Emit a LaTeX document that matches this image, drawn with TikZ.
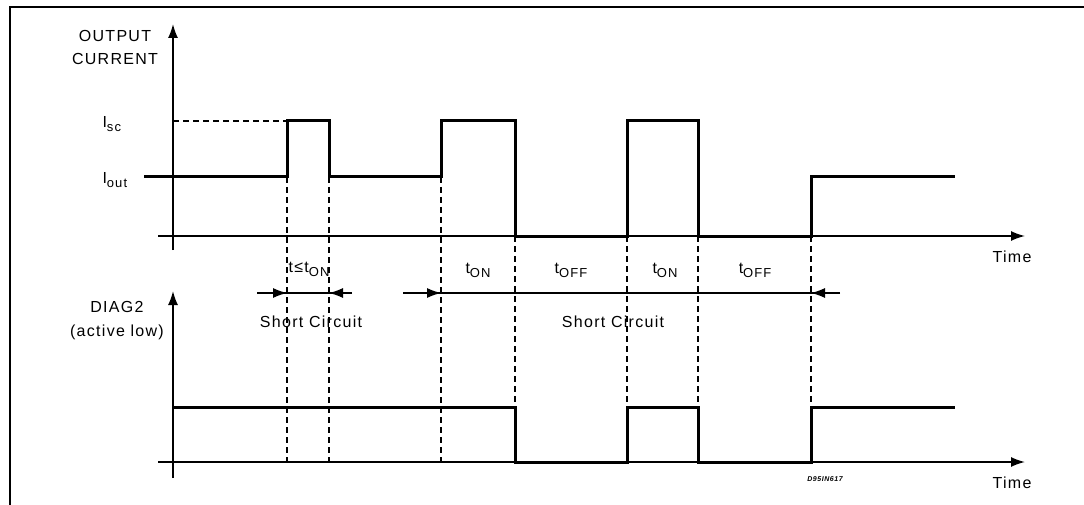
\documentclass[tikz,border=0pt]{standalone}
\usepackage{fontspec}
\newfontfamily\lblfont{Liberation Sans}[LetterSpace=8]
\usetikzlibrary{arrows.meta}
\newcommand\lowsub[1]{\raisebox{-0.45ex}{\fontsize{13}{13}\selectfont #1}}
\begin{document}
\begin{tikzpicture}[x=1pt, y=-1pt, font=\lblfont\fontsize{16}{18}\selectfont, line join=miter, >={Latex[length=14pt,width=10pt]},
	axis/.style={line width=1.6pt},
	sig/.style={line width=3pt},
	dashline/.style={line width=1.2pt, dash pattern=on 6pt off 4pt}]
	\useasboundingbox (0,0) rectangle (1084,505);
	\def \ya{236} %upper time axis
	\def \yout{177} %I_out
	\def \ysc{121} %I_sc
	\def \yb{462} %lower time axis
	\def \yhi{407} %DIAG2 high
	\def \ydim{293} %short circuit arrows
	%frame
	\draw[line width=2.5pt] (10,505)--(10,7)--(1084,7);
	%axes
	\draw[axis,->] (158,\ya)--(1025,\ya);
	\draw[axis,->] (173,250)--(173,24);
	\draw[axis,->] (158,\yb)--(1025,\yb);
	\draw[axis,->] (173,478)--(173,291);
	%dashed guides
	\draw[dashline] (173,\ysc)--(287,\ysc);
	\foreach \t in {287,329,441}
	\draw[dashline] (\t,\yout)--(\t,\yb);
	\foreach \t in {515,627,698,811}
	\draw[dashline] (\t,\ya)--(\t,\yhi);
	%output current
	\draw[sig] (144,\yout)--(287,\yout)--(287,\ysc)--(329,\ysc)--(329,\yout)--(441,\yout)--(441,\ysc)--(515,\ysc)--(515,\ya)
	--(627,\ya)--(627,\ysc)--(698,\ysc)--(698,\ya)--(811,\ya)--(811,\yout)--(955,\yout);
	%DIAG2
	\draw[sig] (173,\yhi)--(515,\yhi)--(515,\yb)--(627,\yb)--(627,\yhi)--(698,\yhi)--(698,\yb)--(811,\yb)--(811,\yhi)--(955,\yhi);
	%short circuit intervals
	\draw[line width=1.2pt] (257,\ydim)--(352,\ydim);
	\draw[line width=1.2pt,->] (257,\ydim)--(287,\ydim);
	\draw[line width=1.2pt,->] (352,\ydim)--(329,\ydim);
	\draw[line width=1.2pt] (403,\ydim)--(840,\ydim);
	\draw[line width=1.2pt,->] (403,\ydim)--(441,\ydim);
	\draw[line width=1.2pt,->] (840,\ydim)--(811,\ydim);
	%labels
	\node (outlbl) at (115,36) {OUTPUT};
	\node (curlbl) at (115,59) {CURRENT};
	\node[anchor=west] (isc) at (99,124) {I\lowsub{sc}};
	\node[anchor=west] (iout) at (99,180) {I\lowsub{out}};
	\node (time1) at (1012,257) {Time};
	\node (time2) at (1012,483) {Time};
	\node (diag) at (117,307) {DIAG2};
	\node (actlow) at (117,332) {(active low)};
	\node (tle) at (309,269) {t≤t\lowsub{ON}};
	\node (ton1) at (478,270) {t\lowsub{ON}};
	\node (toff1) at (571,270) {t\lowsub{OFF}};
	\node (ton2) at (665,270) {t\lowsub{ON}};
	\node (toff2) at (755,270) {t\lowsub{OFF}};
	\node (sc1) at (311,322) {Short Circuit};
	\node (sc2) at (613,322) {Short Circuit};
	\node (code) at (825,479) {\fontsize{7}{7}\selectfont\bfseries\itshape D95IN617};
\end{tikzpicture}
\end{document}
